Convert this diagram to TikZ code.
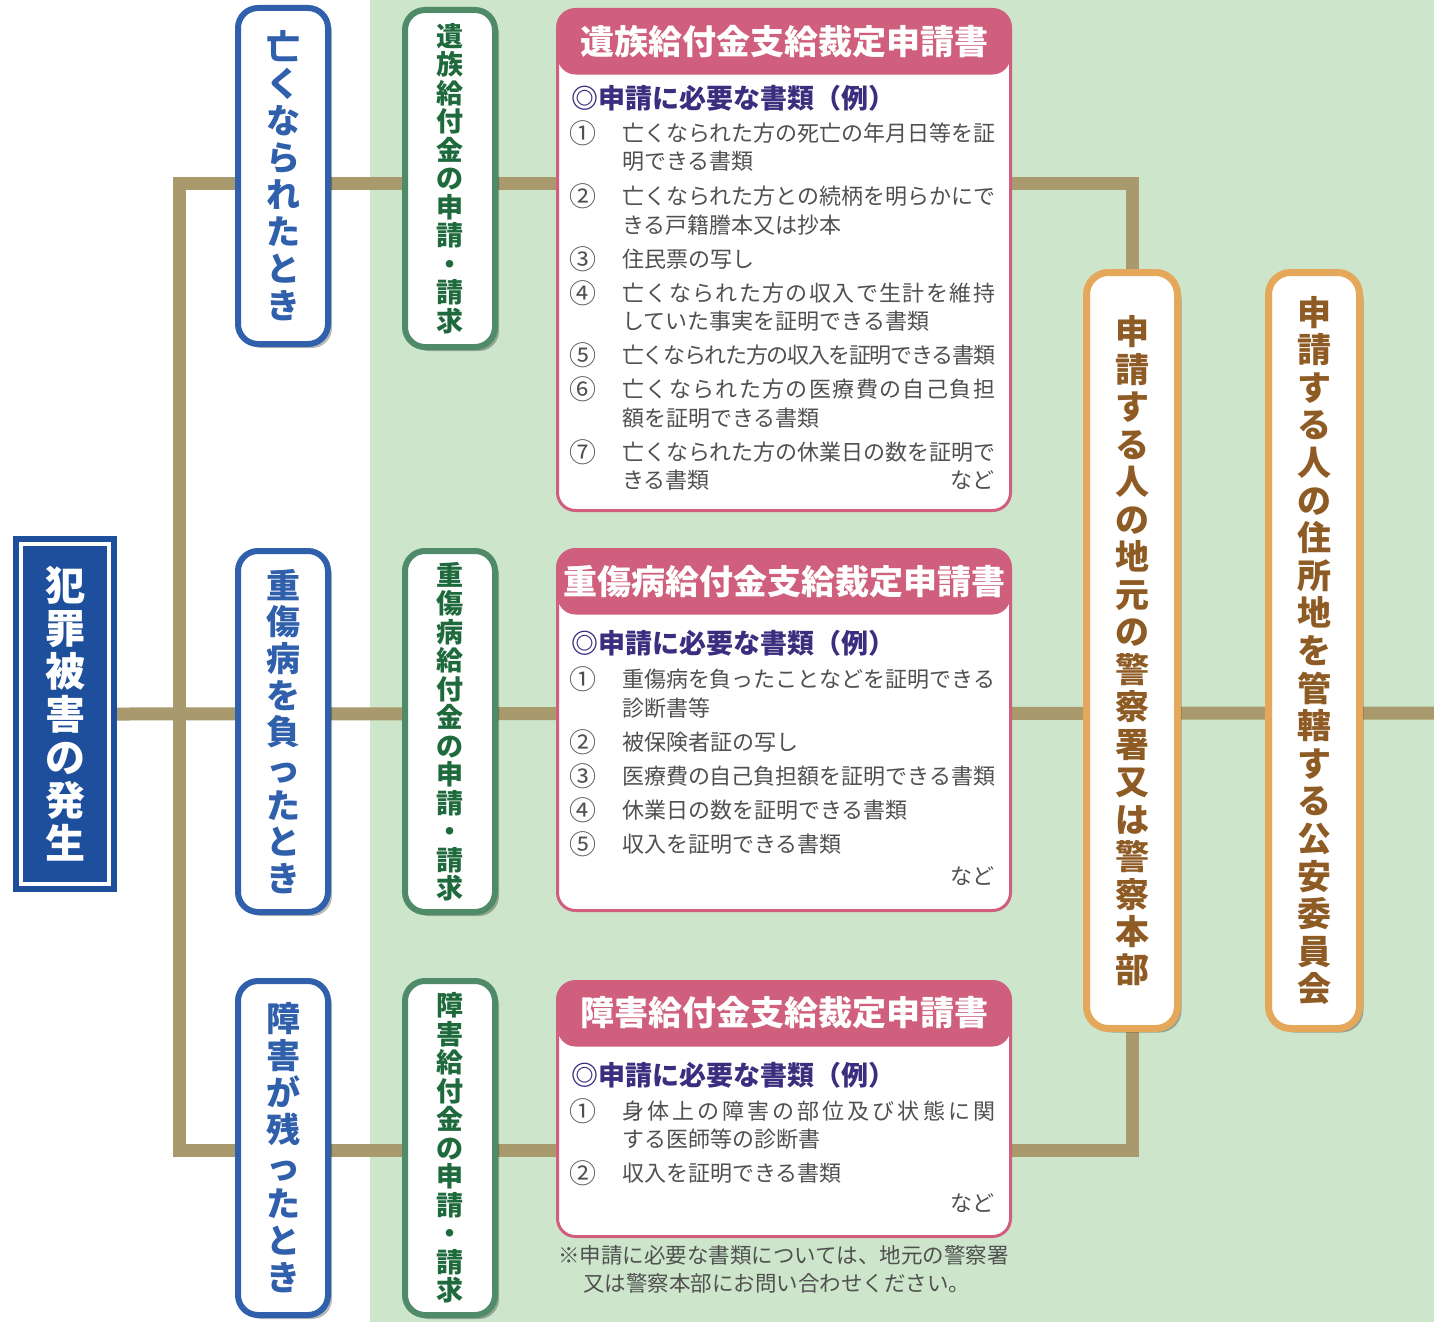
\documentclass[tikz,border=0pt]{standalone}
\usepackage{fontspec}
\setmainfont{Noto Sans CJK JP}
\usetikzlibrary{shadows}
\pgfdeclarelayer{bg}
\pgfdeclarelayer{lines}
\pgfsetlayers{bg,lines,main}
\definecolor{bggreen}{HTML}{CDE6CB}
\definecolor{tanc}{HTML}{A89A6C}
\definecolor{navy}{HTML}{1D4F9C}
\definecolor{bblue}{HTML}{3060AC}
\definecolor{gborder}{HTML}{4F8B68}
\definecolor{gtext}{HTML}{1F6A3C}
\definecolor{pinkc}{HTML}{CF5F7C}
\definecolor{subc}{HTML}{3A2E7E}
\definecolor{itemc}{HTML}{505050}
\definecolor{oborder}{HTML}{E5A85A}
\definecolor{otext}{HTML}{8E5B24}
\makeatletter
\newcommand\jl[1]{\hbox to 373pt{\@tfor\jc:=#1\do{\jc\hskip 0pt plus 1fil minus 2pt}\unskip}}
\newcommand\vstk[2]{\vbox{\baselineskip=#1\lineskip=0pt\lineskiplimit=-\maxdimen\@tfor\vch:=#2\do{\hbox to 1em{\hss\vch\hss}}}}
\makeatother
\tikzset{
  conn/.style={draw=tanc, line width=13pt},
  srcbox/.style={fill=navy, draw=navy, line width=2pt, minimum width=102pt, minimum height=354pt, inner sep=0pt, text=white, font=\fontsize{40}{43}\selectfont\bfseries},
  shad/.style={drop shadow={shadow xshift=4pt, shadow yshift=-4pt, fill=black, opacity=0.28}},
  bluebox/.style={shad, rounded corners=20pt, draw=bblue, line width=6pt, fill=white, text=bblue, minimum width=90pt, inner sep=0pt, font=\fontsize{34}{36}\selectfont\bfseries},
  greenbox/.style={shad, rounded corners=20pt, draw=gborder, line width=6pt, fill=white, text=gtext, minimum width=90pt, inner sep=0pt, font=\fontsize{27}{28}\selectfont\bfseries},
  orangebox/.style={shad, rounded corners=22pt, draw=oborder, line width=7pt, fill=white, text=otext, minimum width=91pt, minimum height=756pt, inner sep=0pt, font=\fontsize{34}{36}\selectfont\bfseries},
  formbox/.style={rounded corners=18pt, draw=pinkc, line width=3pt, fill=white, minimum width=453pt, inner sep=0pt,
    path picture={\fill[pinkc] ([yshift=5pt]path picture bounding box.north west) rectangle ([yshift=-65pt]path picture bounding box.north east);}},
  hdr/.style={text=white, inner sep=0pt, font=\fontsize{34}{36}\selectfont\bfseries},
  sub/.style={text=subc, anchor=west, inner sep=0pt, font=\fontsize{27}{28}\selectfont\bfseries},
  num/.style={text=itemc, inner sep=0pt, font=\fontsize{27}{28}\selectfont},
  itm/.style={text=itemc, anchor=west, inner sep=0pt, font=\fontsize{22}{24}\selectfont},
  nado/.style={text=itemc, anchor=east, inner sep=0pt, font=\fontsize{22}{24}\selectfont},
  note/.style={text=itemc, anchor=west, inner sep=0pt, font=\fontsize{21.5}{24}\selectfont},
}
\begin{document}
\begin{tikzpicture}[x=1pt,y=-1pt]
\useasboundingbox (0,0) rectangle (1434,1322);
\begin{pgfonlayer}{bg}
\fill[bggreen] (370,0) rectangle (1434,1322);
\end{pgfonlayer}

% source
\node[srcbox] (src) at (65,714) {\vstk{43pt}{犯罪被害の発生}};
\draw[white, line width=4pt] ([shift={(8pt,8pt)}]src.south west) rectangle ([shift={(-8pt,-8pt)}]src.north east);

% case boxes
\node[bluebox, minimum height=336pt] (c1) at (283,176) {\vstk{37pt}{亡くなられたとき}};
\node[bluebox, minimum height=361pt] (c2) at (283,731.5) {\vstk{36.7pt}{重傷病を負ったとき}};
\node[bluebox, minimum height=334pt] (c3) at (283,1148) {\vstk{37pt}{障害が残ったとき}};

\node[greenbox, minimum height=337pt] (g1) at (450,178.5) {\vstk{28.5pt}{遺族給付金の申請・請求}};
\node[greenbox, minimum height=361pt] (g2) at (450,731.5) {\vstk{28.5pt}{重傷病給付金の申請・請求}};
\node[greenbox, minimum height=334pt] (g3) at (450,1148) {\vstk{28.5pt}{障害給付金の申請・請求}};

% forms
\node[formbox, minimum height=501pt] (f1) at (784,260) {};
\node[formbox, minimum height=361pt] (f2) at (784,730) {};
\node[formbox, minimum height=255pt] (f3) at (784,1109) {};

\node[hdr] (h1) at (784,42) {遺族給付金支給裁定申請書};
\node[hdr] (h2) at (784,582) {重傷病給付金支給裁定申請書};
\node[hdr] (h3) at (784,1013) {障害給付金支給裁定申請書};

\node[sub] (s1) at (571,98) {◎申請に必要な書類（例）};
\node[sub] (s2) at (571,643) {◎申請に必要な書類（例）};
\node[sub] (s3) at (571,1075) {◎申請に必要な書類（例）};

% form 1 items
\node[num] (a1n) at (583,133) {①};
\node[itm] (a1a) at (622,133) {\jl{亡くなられた方の死亡の年月日等を証}};
\node[itm] (a1b) at (622,161) {明できる書類};
\node[num] (a2n) at (583,196) {②};
\node[itm] (a2a) at (622,196) {\jl{亡くなられた方との続柄を明らかにで}};
\node[itm] (a2b) at (622,225) {きる戸籍謄本又は抄本};
\node[num] (a3n) at (583,259) {③};
\node[itm] (a3a) at (622,259) {住民票の写し};
\node[num] (a4n) at (583,293) {④};
\node[itm] (a4a) at (622,293) {\jl{亡くなられた方の収入で生計を維持}};
\node[itm] (a4b) at (622,321) {していた事実を証明できる書類};
\node[num] (a5n) at (583,355) {⑤};
\node[itm] (a5a) at (622,355) {\jl{亡くなられた方の収入を証明できる書類}};
\node[num] (a6n) at (583,389) {⑥};
\node[itm] (a6a) at (622,389) {\jl{亡くなられた方の医療費の自己負担}};
\node[itm] (a6b) at (622,418) {額を証明できる書類};
\node[num] (a7n) at (583,452) {⑦};
\node[itm] (a7a) at (622,452) {\jl{亡くなられた方の休業日の数を証明で}};
\node[itm] (a7b) at (622,480) {きる書類};
\node[nado] (a8) at (995,480) {など};

% form 2 items
\node[num] (b1n) at (583,679) {①};
\node[itm] (b1a) at (622,679) {\jl{重傷病を負ったことなどを証明できる}};
\node[itm] (b1b) at (622,708) {診断書等};
\node[num] (b2n) at (583,742) {②};
\node[itm] (b2a) at (622,742) {被保険者証の写し};
\node[num] (b3n) at (583,776) {③};
\node[itm] (b3a) at (622,776) {\jl{医療費の自己負担額を証明できる書類}};
\node[num] (b4n) at (583,810) {④};
\node[itm] (b4a) at (622,810) {休業日の数を証明できる書類};
\node[num] (b5n) at (583,844) {⑤};
\node[itm] (b5a) at (622,844) {収入を証明できる書類};
\node[nado] (b6) at (995,876) {など};

% form 3 items
\node[num] (d1n) at (583,1111) {①};
\node[itm] (d1a) at (622,1111) {\jl{身体上の障害の部位及び状態に関}};
\node[itm] (d1b) at (622,1139) {する医師等の診断書};
\node[num] (d2n) at (583,1173) {②};
\node[itm] (d2a) at (622,1173) {収入を証明できる書類};
\node[nado] (d3) at (995,1203) {など};

% footnote
\node[note] (n1) at (558,1255) {※申請に必要な書類については、地元の警察署};
\node[note] (n2) at (583,1283) {又は警察本部にお問い合わせください。};

% offices
\node[orangebox] (o1) at (1132,650.5) {\vstk{37.5pt}{申請する人の地元の警察署又は警察本部}};
\node[orangebox] (o2) at (1314,650.5) {\vstk{37.6pt}{申請する人の住所地を管轄する公安委員会}};

% connectors
\coordinate (jt) at (179,183);
\coordinate (jb) at (179,1150);
\coordinate (rend) at (1434,713);
\begin{pgfonlayer}{lines}
\draw[conn] (o1.north) |- (jt) -- (jb) -| (o1.south);
\draw[conn] (src.east) -- (rend);
\end{pgfonlayer}
\end{tikzpicture}
\end{document}
